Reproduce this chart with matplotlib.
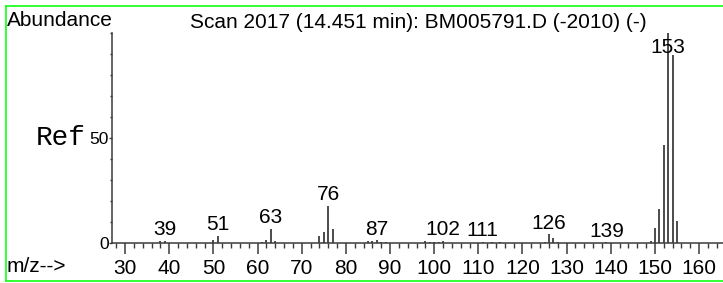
import matplotlib
matplotlib.use("Agg")
import matplotlib.pyplot as plt
from matplotlib.ticker import MultipleLocator, FixedLocator
from matplotlib.lines import Line2D

# ---- data ----
mz = [38, 39, 50, 51, 61, 62, 63, 64, 74, 75, 76, 77,
      85, 86, 87, 88, 89, 98, 99, 100, 101, 102,
      111, 113, 115, 125, 126, 127, 128, 139,
      149, 150, 151, 152, 153, 154, 155]
abundance = [1.0, 1.2, 1.6, 3.6, 0.8, 1.6, 6.8, 1.2, 3.6, 5.4, 17.8, 6.7,
             1.1, 1.3, 1.4, 0.8, 0.5, 1.3, 0.8, 0.8, 0.8, 1.3,
             0.7, 0.7, 0.5, 0.8, 4.3, 2.4, 0.6, 0.5,
             1.0, 7.4, 16.5, 46.8, 100.0, 89.5, 10.6]
labeled_peaks = [39, 51, 63, 76, 87, 102, 111, 126, 139, 153]
x_ticks = [30, 40, 50, 60, 70, 80, 90, 100, 110, 120, 130, 140, 150, 160]
y_ticks = [0, 50]
y_tick_labels = ["0", "50"]
title = "Scan 2017 (14.451 min): BM005791.D (-2010) (-)"

plt.rcParams['font.family'] = ['Liberation Sans', 'DejaVu Sans']

W, H = 723, 283
fig = plt.figure(figsize=(W / 100, H / 100), dpi=100)
ax_left, ax_bottom, ax_top = 112, 243.3, 33.3
ax = fig.add_axes([ax_left / W, (H - ax_bottom) / H, 1 - ax_left / W, (ax_bottom - ax_top) / H])
ax.set_xlim(27.05, 165.4)
ax.set_ylim(0, 100)

axis_col = '#3a3a3a'
peak_col = '#2e2e2e'
ax.vlines(mz, 0, abundance, colors=peak_col, lw=1.2)

fs = 15
lookup = dict(zip(mz, abundance))
for p in labeled_peaks:
    h = lookup[p]
    if h > 80:
        ax.annotate(str(p), xy=(p, h), xytext=(0, -14.5), textcoords='offset points',
                    ha='center', va='baseline', fontsize=fs)
    else:
        ax.annotate(str(p), xy=(p, h), xytext=(0, 4), textcoords='offset points',
                    ha='center', va='baseline', fontsize=fs)

for s in ['top', 'right']:
    ax.spines[s].set_visible(False)
for s in ['left', 'bottom']:
    ax.spines[s].set_color(axis_col)
    ax.spines[s].set_linewidth(1.1)

ax.xaxis.set_major_locator(FixedLocator(x_ticks))
ax.xaxis.set_minor_locator(MultipleLocator(2))
ax.tick_params(axis='x', which='major', direction='out', length=8, width=1.1,
               color=axis_col, labelsize=fs, pad=3.5)
ax.tick_params(axis='x', which='minor', direction='out', length=3.8, width=1.0, color=axis_col)
ax.set_yticks(y_ticks)
ax.set_yticklabels(y_tick_labels)
ax.yaxis.set_minor_locator(MultipleLocator(10))
ax.tick_params(axis='y', which='major', direction='out', length=2, width=1.0,
               color=axis_col, labelsize=12.5, pad=0.3)
ax.tick_params(axis='y', which='minor', direction='out', length=1.5, width=1.0, color=axis_col)

fig.text(418 / W, 1 - 27.5 / H, title, ha='center', va='baseline', fontsize=fs)
fig.text(7 / W, 1 - 26.5 / H, "Abundance", ha='left', va='baseline', fontsize=fs)
fig.text(7 / W, 1 - 272 / H, "m/z-->", ha='left', va='baseline', fontsize=fs)
fig.text(36 / W, 1 - 145 / H, "Ref", ha='left', va='baseline', fontsize=20,
         family=['Liberation Mono', 'DejaVu Sans Mono'])

# green frame (left, top, bottom)
green = '#11ff11'
for (xs, ys) in [([6 / W, 6 / W], [1 - 6 / H, 1 - 280.5 / H]),
                 ([6 / W, 1.0], [1 - 6 / H, 1 - 6 / H]),
                 ([6 / W, 1.0], [1 - 280.5 / H, 1 - 280.5 / H])]:
    fig.add_artist(Line2D(xs, ys, transform=fig.transFigure, color=green, lw=1.2))

fig.savefig("out.png", dpi=100)
